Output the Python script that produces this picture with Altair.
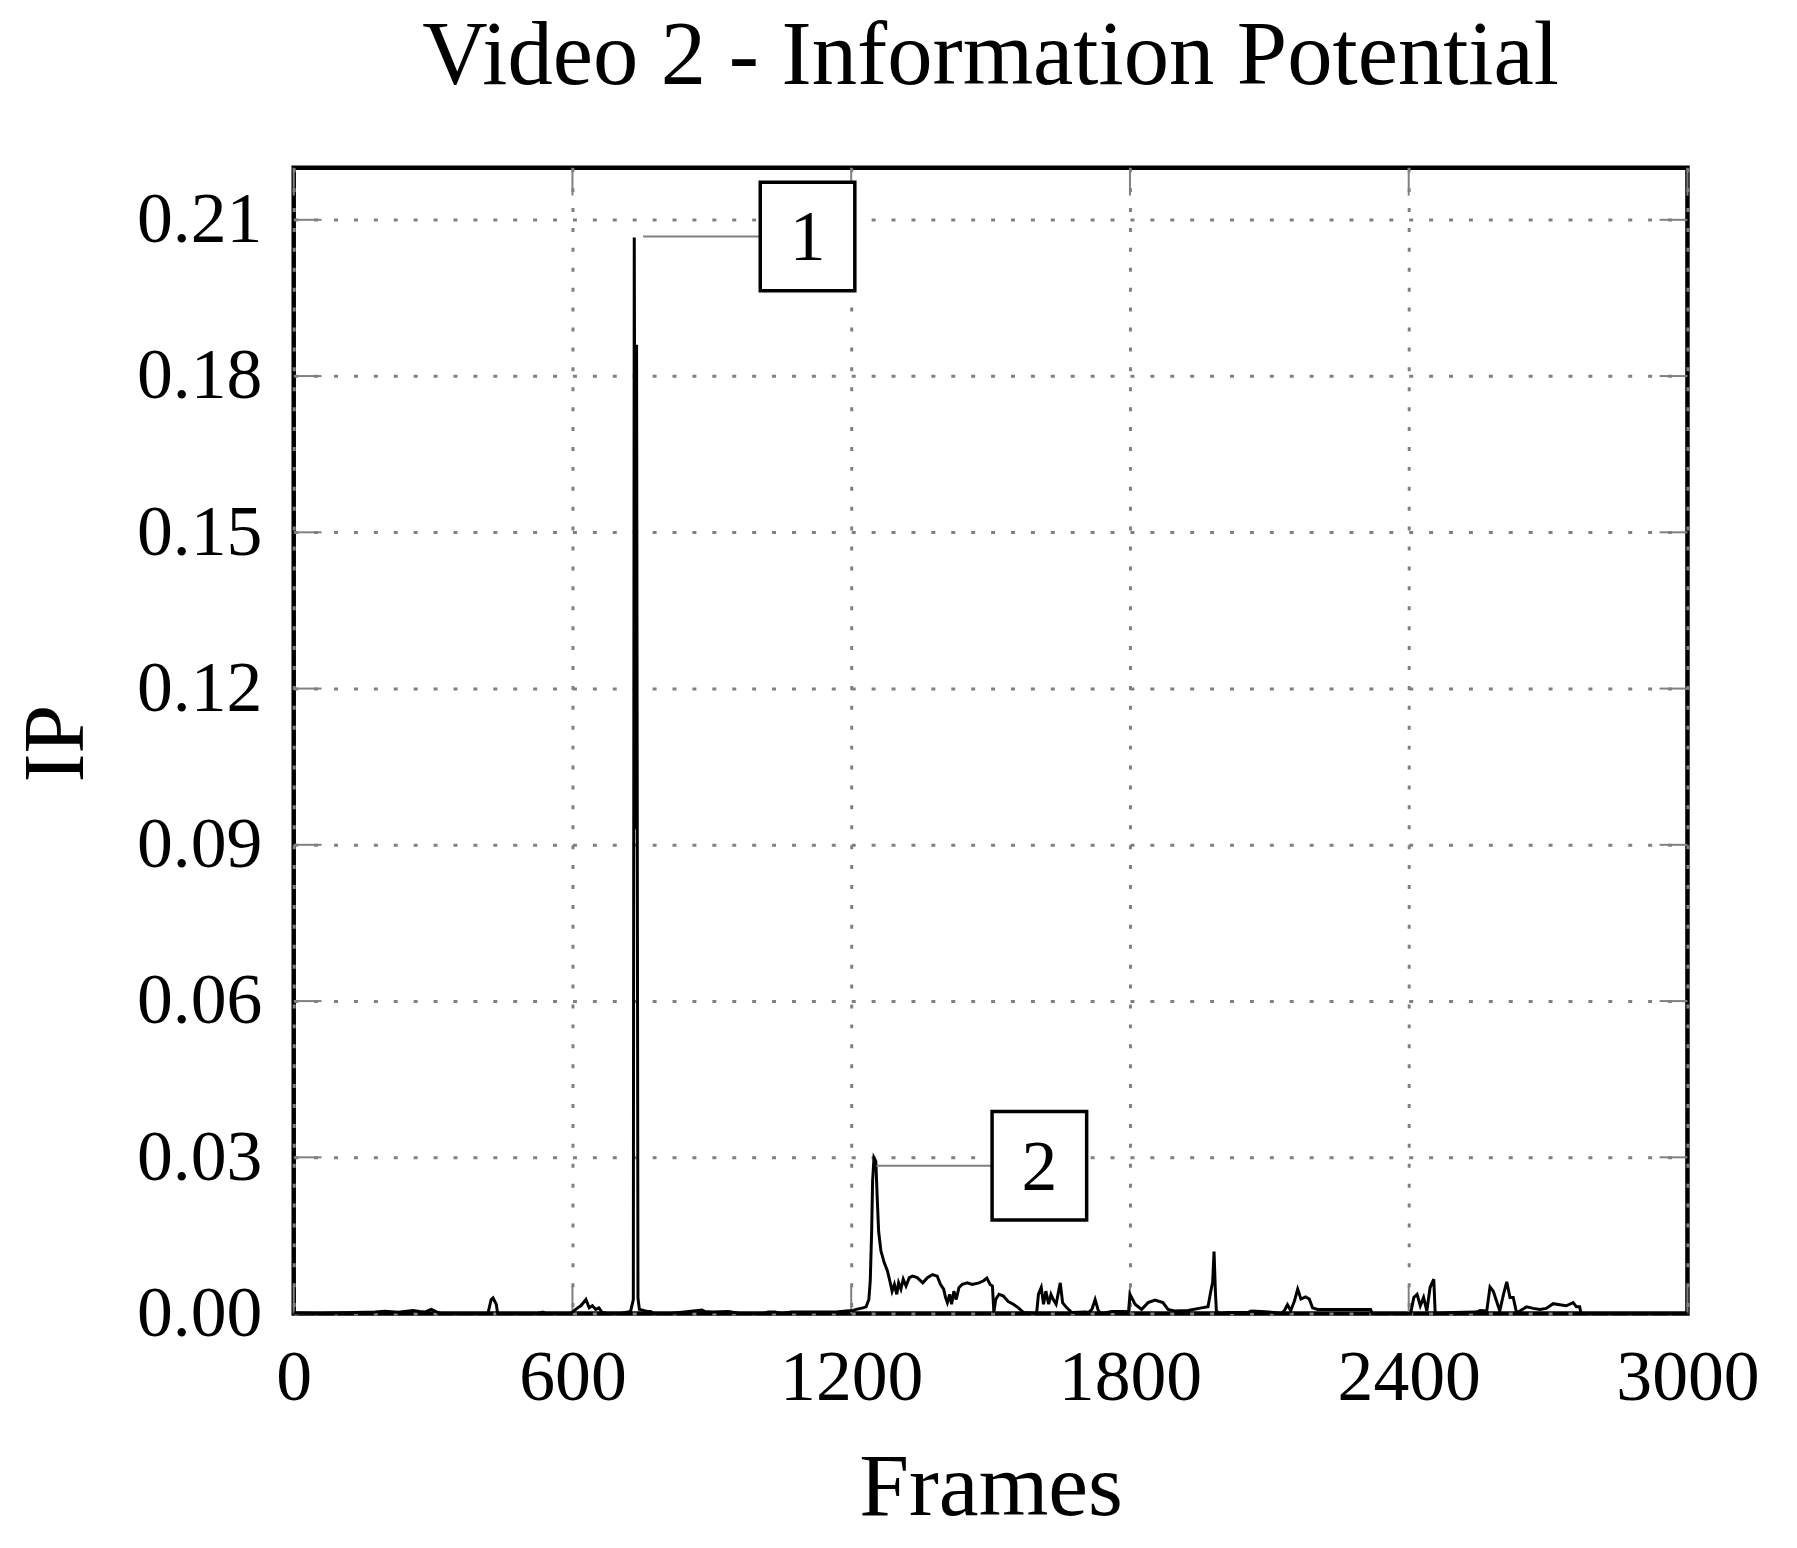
import altair as alt
import pandas as pd

# ---- data ----
frames = [0, 53, 132, 175, 196, 225, 257, 271, 282, 296, 311, 318, 418, 425, 429, 436, 439,
          525, 536, 543, 596, 611, 618, 629, 636, 643, 650, 657, 664, 675, 704, 725,
          731, 733, 736, 738, 741, 744, 761, 768, 775, 811, 879, 885, 900, 936, 960,
          1010, 1021, 1036, 1050, 1071, 1129, 1168, 1189, 1204, 1211, 1225, 1232, 1238,
          1241, 1244, 1246, 1249, 1253, 1256, 1259, 1264, 1271, 1278, 1283, 1288, 1293,
          1298, 1302, 1307, 1312, 1318, 1325, 1332, 1342, 1354, 1364, 1375, 1385, 1392,
          1399, 1403, 1407, 1412, 1416, 1421, 1426, 1432, 1439, 1450, 1460, 1475, 1485,
          1492, 1499, 1504, 1507, 1511, 1518, 1527, 1538, 1549, 1560, 1571, 1599, 1603,
          1609, 1614, 1619, 1625, 1630, 1635, 1641, 1650, 1655, 1664, 1675, 1704, 1711,
          1718, 1725, 1732, 1739, 1761, 1797, 1800, 1811, 1825, 1839, 1854, 1871, 1882,
          1896, 1925, 1954, 1968, 1974, 1978, 1981, 1984, 1986, 1993, 2011, 2053, 2061,
          2082, 2111, 2125, 2132, 2139, 2146, 2154, 2161, 2168, 2178, 2186, 2193, 2204,
          2282, 2318, 2321, 2404, 2411, 2418, 2425, 2432, 2439, 2446, 2454, 2457, 2496,
          2546, 2554, 2568, 2575, 2582, 2589, 2596, 2604, 2611, 2618, 2625, 2632, 2639,
          2654, 2668, 2682, 2696, 2711, 2725, 2739, 2754, 2761, 2768, 2771, 3000]
ip = [0.0001, 0.0, 0.0002, 0.0003, 0.00045, 0.00025, 0.0006, 0.0004, 0.0003, 0.0008, 0.0002, 0.0, 0.0, 0.0027, 0.003, 0.0018, 0.0,
      0.0, 0.0003, 0.0, 0.0, 0.0011, 0.0015, 0.0027, 0.0011, 0.0015, 0.0008, 0.0011, 0.0002, 0.0, 0.0, 0.0004,
      0.0027, 0.2066, 0.093, 0.186, 0.003, 0.0008, 0.0004, 0.0004, 0.0, 0.0, 0.0007, 0.0004, 0.0003, 0.0004, 0.0,
      0.0, 0.0003, 0.0003, 0.0, 0.0003, 0.0003, 0.0003, 0.0005, 0.0006, 0.0008, 0.0011, 0.0013, 0.0027,
      0.0063, 0.0158, 0.0254, 0.0299, 0.0292, 0.0222, 0.0158, 0.012, 0.0098, 0.0082, 0.0063, 0.0043, 0.0056,
      0.0037, 0.0059, 0.0047, 0.0066, 0.0053, 0.0069, 0.0072, 0.0069, 0.0059, 0.0069, 0.0075, 0.0072, 0.0056,
      0.0047, 0.0031, 0.0021, 0.0037, 0.0018, 0.0043, 0.0027, 0.005, 0.0056, 0.0059, 0.0056, 0.0059, 0.0063,
      0.0068, 0.0056, 0.0053, 0.0002, 0.0027, 0.0037, 0.0034, 0.0023, 0.0018, 0.0011, 0.0002, 0.0, 0.0037,
      0.005, 0.0018, 0.0043, 0.0018, 0.0037, 0.0027, 0.0018, 0.0059, 0.0021, 0.0011, 0.0002, 0.0003, 0.0002,
      0.0008, 0.0027, 0.0005, 0.0, 0.0004, 0.0004, 0.0037, 0.0018, 0.0008, 0.0021, 0.0026, 0.0021, 0.0008,
      0.0005, 0.0006, 0.0011, 0.0013, 0.0043, 0.006, 0.0119, 0.004, 0.0005, 0.0, 0.0002, 0.0002, 0.0005,
      0.0004, 0.0002, 0.0, 0.0005, 0.0017, 0.0006, 0.0024, 0.0047, 0.0028, 0.0032, 0.0028, 0.0011, 0.0008,
      0.0008, 0.0008, 0.0, 0.0, 0.0031, 0.0037, 0.0015, 0.0031, 0.0005, 0.005, 0.0066, 0.0, 0.0002,
      0.0003, 0.0006, 0.0005, 0.0051, 0.0043, 0.0024, 0.0005, 0.0037, 0.0061, 0.0031, 0.0031, 0.0002, 0.0005,
      0.0013, 0.001, 0.0008, 0.001, 0.0019, 0.0017, 0.0015, 0.0021, 0.0013, 0.0013, 0.0, 0.0]

x_ticks = [0, 600, 1200, 1800, 2400, 3000]
y_ticks = [0.0, 0.03, 0.06, 0.09, 0.12, 0.15, 0.18, 0.21]

ann_label = ["1", "2"]
ann_peak_frame = [752, 1254]
ann_box_frame = [1106, 1605]
ann_value = [0.2068, 0.0284]

# ---- tables ----
series = pd.DataFrame({"frame": frames, "ip": ip})
xt = pd.DataFrame({"frame": x_ticks})
yt = pd.DataFrame({"ip": y_ticks})
ann = pd.DataFrame({"label": ann_label, "frame": ann_peak_frame,
                    "box_frame": ann_box_frame, "ip": ann_value})

FONT = "Liberation Serif"
W, H = 1400, 1151
TICK = 28
GRAY = "#808080"

xscale = alt.Scale(domain=[0, 3000], nice=False, zero=False)
yscale = alt.Scale(domain=[0, 0.22], nice=False, zero=False)

xaxis = alt.Axis(values=x_ticks, title="Frames", format="d", grid=True,
                 gridColor=GRAY, gridDash=[4, 16], gridWidth=3, gridOpacity=1,
                 domain=False, ticks=False, labelFont=FONT, labelFontSize=72,
                 labelColor="black", labelBaseline="alphabetic", labelPadding=86,
                 labelFlush=False, labelOverlap=False,
                 titleFont=FONT, titleFontSize=90, titleFontWeight="normal",
                 titleColor="black", titleBaseline="alphabetic", titleY=202)
yaxis = alt.Axis(values=y_ticks, title="IP", format=".2f", grid=True,
                 gridColor=GRAY, gridDash=[4, 16], gridWidth=3, gridOpacity=1,
                 domain=False, ticks=False, labelFont=FONT, labelFontSize=72,
                 labelColor="black", labelBaseline="middle", labelAlign="right",
                 labelPadding=32, labelFlush=False, labelOverlap=False,
                 titleFont=FONT, titleFontSize=88, titleFontWeight="normal",
                 titleColor="black", titleAngle=270, titleBaseline="alphabetic",
                 titleAlign="center", titleX=-212, titleY=578)

line = alt.Chart(series).mark_line(color="black", strokeWidth=3).encode(
    x=alt.X("frame:Q", scale=xscale, axis=xaxis),
    y=alt.Y("ip:Q", scale=yscale, axis=yaxis),
)

tick_left = alt.Chart(yt).mark_rule(color=GRAY, strokeWidth=2).encode(
    y=alt.Y("ip:Q", scale=yscale, axis=yaxis), x=alt.value(0), x2=alt.value(TICK))
tick_right = alt.Chart(yt).mark_rule(color=GRAY, strokeWidth=2).encode(
    y=alt.Y("ip:Q", scale=yscale, axis=yaxis), x=alt.value(W - TICK), x2=alt.value(W))
tick_bottom = alt.Chart(xt).mark_rule(color=GRAY, strokeWidth=2).encode(
    x=alt.X("frame:Q", scale=xscale, axis=xaxis), y=alt.value(H - TICK), y2=alt.value(H))
tick_top = alt.Chart(xt).mark_rule(color=GRAY, strokeWidth=2).encode(
    x=alt.X("frame:Q", scale=xscale, axis=xaxis), y=alt.value(0), y2=alt.value(TICK))

conn = alt.Chart(ann).mark_rule(color=GRAY, strokeWidth=2).encode(
    x=alt.X("frame:Q", scale=xscale, axis=xaxis), x2="box_frame:Q",
    y=alt.Y("ip:Q", scale=yscale, axis=yaxis))
boxes = alt.Chart(ann).mark_rect(width=95, height=109, fill="white", stroke="black",
                                 strokeWidth=3.5).encode(
    x=alt.X("box_frame:Q", scale=xscale, axis=xaxis),
    y=alt.Y("ip:Q", scale=yscale, axis=yaxis))
labels = alt.Chart(ann).mark_text(font=FONT, fontSize=72, color="black",
                                  baseline="alphabetic", align="center", dy=24).encode(
    x=alt.X("box_frame:Q", scale=xscale, axis=xaxis),
    y=alt.Y("ip:Q", scale=yscale, axis=yaxis), text="label:N")

chart = alt.layer(tick_left, tick_right, tick_bottom, tick_top, line, conn, boxes, labels).properties(
    width=W, height=H,
    title=alt.TitleParams("Video 2 - Information Potential", font=FONT, fontSize=91,
                          fontWeight="normal", color="black", anchor="middle",
                          baseline="alphabetic", offset=0, dy=8),
    autosize=alt.AutoSizeParams(type="none"),
    padding={"left": 287, "top": 157, "right": 102, "bottom": 224},
).configure(background="white").configure_view(stroke="black", strokeWidth=4.5)

chart.save("out.html", embed_options={"renderer": "svg", "actions": False})
